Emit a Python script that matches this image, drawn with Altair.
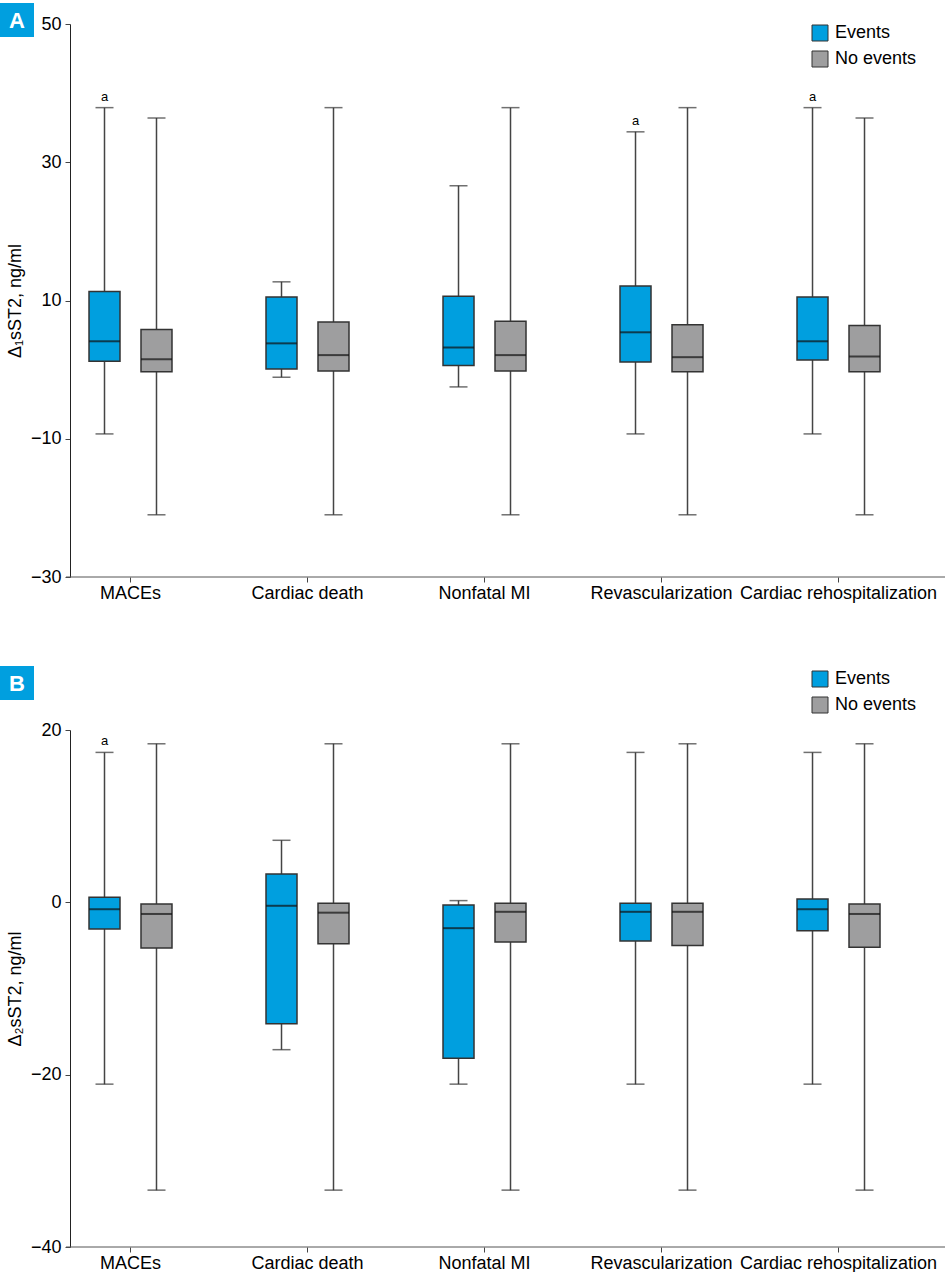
import altair as alt
import pandas as pd

categories = ["MACEs", "Cardiac death", "Nonfatal MI", "Revascularization", "Cardiac rehospitalization"]
groups = ["Events", "No events"]
colors = ["#009FDF", "#9E9E9F"]

# Panel A: Δ1sST2 (ng/ml) — box summaries
a_ev_lo = [-9.3, -1.1, -2.5, -9.3, -9.3]
a_ev_q1 = [1.2, 0.1, 0.6, 1.1, 1.4]
a_ev_med = [4.1, 3.8, 3.2, 5.4, 4.1]
a_ev_q3 = [11.3, 10.5, 10.6, 12.1, 10.5]
a_ev_hi = [37.9, 12.7, 26.6, 34.4, 37.9]
a_no_lo = [-21.0, -21.0, -21.0, -21.0, -21.0]
a_no_q1 = [-0.3, -0.2, -0.2, -0.3, -0.3]
a_no_med = [1.5, 2.1, 2.1, 1.8, 1.9]
a_no_q3 = [5.8, 6.9, 7.0, 6.5, 6.4]
a_no_hi = [36.4, 37.9, 37.9, 37.9, 36.4]
a_ev_note = ["a", "", "", "a", "a"]

# Panel B: Δ2sST2 (ng/ml)
b_ev_lo = [-21.1, -17.1, -21.1, -21.1, -21.1]
b_ev_q1 = [-3.1, -14.1, -18.1, -4.5, -3.3]
b_ev_med = [-0.8, -0.4, -3.0, -1.1, -0.8]
b_ev_q3 = [0.6, 3.3, -0.3, -0.1, 0.4]
b_ev_hi = [17.4, 7.2, 0.2, 17.4, 17.4]
b_no_lo = [-33.4, -33.4, -33.4, -33.4, -33.4]
b_no_q1 = [-5.3, -4.8, -4.6, -5.0, -5.2]
b_no_med = [-1.35, -1.2, -1.1, -1.1, -1.35]
b_no_q3 = [-0.2, -0.1, -0.1, -0.1, -0.2]
b_no_hi = [18.4, 18.4, 18.4, 18.4, 18.4]
b_ev_note = ["a", "", "", "", ""]

a_ticks = [50, 30, 10, -10, -30]
b_ticks = [20, 0, -20, -40]

FONT = "Liberation Sans, Arial, sans-serif"


def build_df(ev, no, ev_note):
    rows = []
    for i, c in enumerate(categories):
        rows.append(dict(category=c, group="Events", lo=ev[0][i], q1=ev[1][i], med=ev[2][i],
                         q3=ev[3][i], hi=ev[4][i], note=ev_note[i]))
        rows.append(dict(category=c, group="No events", lo=no[0][i], q1=no[1][i], med=no[2][i],
                         q3=no[3][i], hi=no[4][i], note=""))
    return pd.DataFrame(rows)


df_a = build_df([a_ev_lo, a_ev_q1, a_ev_med, a_ev_q3, a_ev_hi],
                [a_no_lo, a_no_q1, a_no_med, a_no_q3, a_no_hi], a_ev_note)
df_b = build_df([b_ev_lo, b_ev_q1, b_ev_med, b_ev_q3, b_ev_hi],
                [b_no_lo, b_no_q1, b_no_med, b_no_q3, b_no_hi], b_ev_note)


def panel(df, domain, ticks, ytitle, badge, badge_y, legend_y, height):
    xenc = alt.X("category:N", sort=categories, title=None,
                 scale=alt.Scale(paddingInner=0, paddingOuter=0.0508, align=0),
                 axis=alt.Axis(labelAngle=0, labelFontSize=18, labelColor="black",
                               tickSize=5, tickColor="#444", domain=False,
                               labelPadding=2, labelLimit=400, labelOverlap=False))
    xoff = alt.XOffset("group:N", sort=groups,
                       scale=alt.Scale(paddingInner=0.4038, paddingOuter=0.904))
    yscale = alt.Scale(domain=domain, nice=False, zero=False)
    yaxis = alt.Axis(values=ticks, grid=False, title=ytitle, titleFontSize=18,
                     titleFontWeight="normal", titleColor="black", titlePadding=6,
                     labelFontSize=18, labelColor="black", tickSize=5, tickColor="#444",
                     domainColor="#222", offset=-28, labelPadding=4)

    def Y(field):
        return alt.Y(f"{field}:Q", scale=yscale, axis=yaxis)

    base = alt.Chart(df).encode(x=xenc, xOffset=xoff)
    whisk = base.mark_rule(color="#444", strokeWidth=1.5).encode(y=Y("lo"), y2="hi:Q")
    cap_lo = base.mark_tick(size=18, thickness=1.5, color="#333").encode(y=Y("lo"))
    cap_hi = base.mark_tick(size=18, thickness=1.5, color="#333").encode(y=Y("hi"))
    box = base.mark_bar(stroke="#333", strokeWidth=1.5).encode(
        y=Y("q1"), y2="q3:Q",
        color=alt.Color("group:N", sort=groups,
                        scale=alt.Scale(domain=groups, range=colors),
                        legend=alt.Legend(title=None, orient="none", legendX=769,
                                          legendY=legend_y, symbolType="square",
                                          symbolSize=256, symbolStrokeColor="#333",
                                          symbolStrokeWidth=1, labelFontSize=18,
                                          labelColor="black", rowPadding=6, padding=0,
                                          labelOffset=6)))
    med = base.mark_tick(size=31, thickness=2, color="#111").encode(y=Y("med"))
    note = base.mark_text(dy=-11, fontSize=13, color="black", font=FONT).encode(
        y=Y("hi"), text="note:N")

    # x-axis base line, starting just left of the (offset) y axis
    axdf = pd.DataFrame({"base": [domain[0]]})
    xline = alt.Chart(axdf).mark_rule(color="#555", strokeWidth=1).encode(
        y=alt.Y("base:Q", scale=yscale, axis=yaxis), x=alt.value(24), x2=alt.value(903))

    bdf = pd.DataFrame({"label": [badge]})
    brect = alt.Chart(bdf).mark_rect(color="#009FDF").encode(
        x=alt.value(-42), x2=alt.value(-8), y=alt.value(badge_y), y2=alt.value(badge_y + 34))
    btext = alt.Chart(bdf).mark_text(color="white", fontSize=22, fontWeight="bold",
                                     font=FONT, baseline="middle").encode(
        x=alt.value(-25), y=alt.value(badge_y + 18), text="label:N")

    return alt.layer(whisk, box, med, cap_lo, cap_hi, note, xline, brect, btext).properties(
        width=903, height=height)


pa = panel(df_a, [-30, 50], a_ticks, "Δ₁sST2, ng/ml", "A", -21, 0, 553)
pb = panel(df_b, [-40, 20], b_ticks, "Δ₂sST2, ng/ml", "B", -64, -60, 517)

chart = alt.vconcat(pa, pb, spacing=64).resolve_scale(
    x="independent", y="independent", color="independent"
).resolve_legend(color="independent").properties(
    padding={"left": 0, "top": 3, "right": 0, "bottom": 0},
    background="white"
).configure(font=FONT).configure_view(stroke=None)

chart.save("out.html", embed_options={"renderer": "svg", "actions": False})
